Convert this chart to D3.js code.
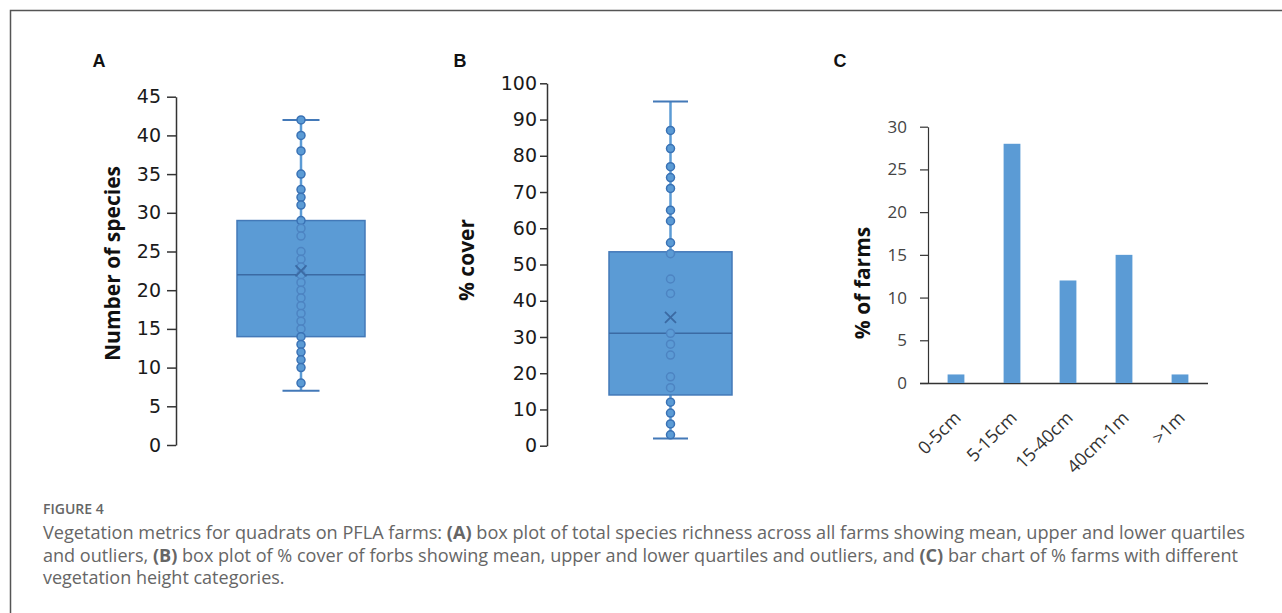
<!DOCTYPE html>
<html><head><meta charset="utf-8">
<script src="https://cdn.jsdelivr.net/npm/d3@7"></script>
<style>
html,body{margin:0;padding:0;background:#fff;}
svg{display:block;}
</style></head>
<body>
<svg id="chart" width="1282" height="613"></svg>
<script>
// ---- Data ----
// Panel A: number of species per quadrat
const speciesPoints = [42, 40, 38, 35, 33, 32, 31, 29, 28, 27, 25, 24, 23, 22, 21, 20, 19, 18, 17, 16, 15, 14, 13, 12, 11, 10, 8];
const speciesStats = {min: 7, q1: 14, median: 22, q3: 29, max: 42, mean: 22.5};
const speciesTicks = [0, 5, 10, 15, 20, 25, 30, 35, 40, 45];

// Panel B: % cover of forbs
const coverPoints = [87, 82, 77, 74, 71, 65, 62, 56, 53, 46, 42, 31, 28, 25, 19, 16, 12, 9, 6, 3];
const coverStats = {min: 2, q1: 14, median: 31, q3: 53.5, max: 95, mean: 35.4};
const coverTicks = [0, 10, 20, 30, 40, 50, 60, 70, 80, 90, 100];

// Panel C: % of farms by vegetation height
const heightCategories = ["0-5cm", "5-15cm", "15-40cm", "40cm-1m", ">1m"];
const farmPercent = [1, 28, 12, 15, 1];
const farmTicks = [0, 5, 10, 15, 20, 25, 30];

const captionTitle = "FIGURE 4";

// ---- Drawing ----
const svg = d3.select("#chart");
const FILL = "#5b9bd5", STROKE = "#4379b8", DARK = "#3b6aa3";
const FONT = "'Open Sans', 'DejaVu Sans', sans-serif";
const TICKFONT = "'DejaVu Sans', 'Open Sans', sans-serif";

// frame
svg.append("path").attr("d", "M10.5,613 L10.5,10.5 L1282,10.5")
  .attr("fill", "none").attr("stroke", "#555").attr("stroke-width", 1.5);

// panel letters
[["A", 99], ["B", 460], ["C", 840]].forEach(([t, x]) => {
  svg.append("text").attr("x", x).attr("y", 67).attr("text-anchor", "middle")
    .attr("font-family", "'Liberation Sans', Arial, sans-serif").attr("font-weight", "bold")
    .attr("font-size", 18).attr("fill", "#111").text(t);
});

function styleAxis(g, font, size, color) {
  g.select(".domain").attr("stroke", "#333").attr("stroke-width", 1.5);
  g.selectAll(".tick line").attr("stroke", "#333").attr("stroke-width", 1.5);
  g.selectAll(".tick text").attr("font-family", font).attr("font-size", size).attr("fill", color);
}

function boxPanel(cfg) {
  const y = d3.scaleLinear().domain([0, cfg.ticks[cfg.ticks.length - 1]]).range([cfg.y0, cfg.y1]);
  const g = svg.append("g");
  const ax = g.append("g").attr("transform", `translate(${cfg.axisX},0)`)
    .call(d3.axisLeft(y).tickValues(cfg.ticks).tickSize(cfg.tick).tickPadding(cfg.pad).tickSizeOuter(0));
  styleAxis(ax, TICKFONT, 19, "#1a1a1a");
  g.append("text").attr("transform", `translate(${cfg.titleX},${cfg.titleY}) rotate(-90)`)
    .attr("text-anchor", "middle").attr("font-family", FONT).attr("font-weight", "bold")
    .attr("font-size", 21).attr("fill", "#111").text(cfg.title);
  const s = cfg.stats, cx = cfg.cx, hw = cfg.halfW, cap = cfg.capW;
  // whisker line
  g.append("line").attr("x1", cx).attr("x2", cx).attr("y1", y(s.min)).attr("y2", y(s.max))
    .attr("stroke", FILL).attr("stroke-width", 2.5);
  [s.min, s.max].forEach(v => g.append("line").attr("x1", cx - cap).attr("x2", cx + cap)
    .attr("y1", y(v)).attr("y2", y(v)).attr("stroke", STROKE).attr("stroke-width", 2));
  // box
  g.append("rect").attr("x", cx - hw).attr("width", 2 * hw).attr("y", y(s.q3))
    .attr("height", y(s.q1) - y(s.q3)).attr("fill", FILL).attr("stroke", STROKE).attr("stroke-width", 1.5);
  g.append("line").attr("x1", cx - hw).attr("x2", cx + hw).attr("y1", y(s.median)).attr("y2", y(s.median))
    .attr("stroke", DARK).attr("stroke-width", 1.5);
  // points
  g.selectAll("circle.pt").data(cfg.points).join("circle").attr("class", "pt")
    .attr("cx", cx).attr("cy", d => y(d)).attr("r", 4)
    .attr("fill", FILL)
    .attr("stroke", d => (d > s.q1 && d < s.q3) ? "#4d84c2" : "#3a72b5").attr("stroke-width", 1.5);
  // mean X
  const my = y(s.mean), m = 5.5;
  g.append("path").attr("d", `M${cx - m},${my - m}L${cx + m},${my + m}M${cx - m},${my + m}L${cx + m},${my - m}`)
    .attr("stroke", DARK).attr("stroke-width", 1.8).attr("fill", "none");
}

boxPanel({points: speciesPoints, stats: speciesStats, ticks: speciesTicks, y0: 445, y1: 96.7,
  axisX: 176, tick: 9, pad: 6, cx: 301, halfW: 64, capW: 18.5, titleX: 120, titleY: 263.5, title: "Number of species"});
boxPanel({points: coverPoints, stats: coverStats, ticks: coverTicks, y0: 445.7, y1: 83.3,
  axisX: 547, tick: 7, pad: 3, cx: 670.5, halfW: 61.5, capW: 17.5, titleX: 474, titleY: 260, title: "% cover"});

// Panel C bar chart
(function () {
  const y = d3.scaleLinear().domain([0, 30]).range([383, 126.7]);
  const x = d3.scaleBand().domain(heightCategories).range([928, 1208]).paddingInner(0.7).paddingOuter(0.35);
  const g = svg.append("g");
  const ax = g.append("g").attr("transform", "translate(928,0)")
    .call(d3.axisLeft(y).tickValues(farmTicks).tickSize(8).tickPadding(13).tickSizeOuter(0));
  styleAxis(ax, FONT, 17, "#444");
  ax.select(".domain").attr("stroke-width", 1.2);
  ax.selectAll(".tick line").attr("stroke-width", 1.2);
  const bx = g.append("g").attr("transform", "translate(0,383)")
    .call(d3.axisBottom(x).tickSize(0).tickSizeOuter(0));
  bx.select(".domain").attr("d", "M920,0.5H1208").attr("stroke", "#333").attr("stroke-width", 1.5);
  bx.selectAll(".tick text").attr("font-family", FONT).attr("font-size", 18).attr("fill", "#333")
    .attr("text-anchor", "end").attr("dy", 0).attr("y", 0)
    .attr("transform", "translate(6,36) rotate(-45)");
  g.selectAll("rect.bar").data(farmPercent).join("rect").attr("class", "bar")
    .attr("x", (d, i) => x(heightCategories[i])).attr("width", x.bandwidth())
    .attr("y", d => y(d)).attr("height", d => y(0) - y(d)).attr("fill", FILL);
  g.append("text").attr("transform", "translate(870,283) rotate(-90)")
    .attr("text-anchor", "middle").attr("font-family", FONT).attr("font-weight", "bold")
    .attr("font-size", 21).attr("fill", "#111").text("% of farms");
})();

// caption
svg.append("text").attr("x", 43).attr("y", 514).attr("font-family", FONT).attr("font-weight", 600)
  .attr("font-size", 14).attr("fill", "#666").text(captionTitle);
const capLines = [
  [["Vegetation metrics for quadrats on PFLA farms: ", 0], ["(A)", 1], [" box plot of total species richness across all farms showing mean, upper and lower quartiles", 0]],
  [["and outliers, ", 0], ["(B)", 1], [" box plot of % cover of forbs showing mean, upper and lower quartiles and outliers, and ", 0], ["(C)", 1], [" bar chart of % farms with different", 0]],
  [["vegetation height categories.", 0]]
];
const capWidths = [1202, 1195, null];
capLines.forEach((line, i) => {
  const t = svg.append("text").attr("x", 43).attr("y", 539 + i * 22.5).attr("font-family", FONT)
    .attr("font-size", 18).attr("fill", "#666");
  line.forEach(([s, b]) => t.append("tspan").attr("font-weight", b ? 700 : 400).text(s));
  if (capWidths[i]) t.attr("textLength", capWidths[i]).attr("lengthAdjust", "spacingAndGlyphs");
});
</script>
</body></html>
